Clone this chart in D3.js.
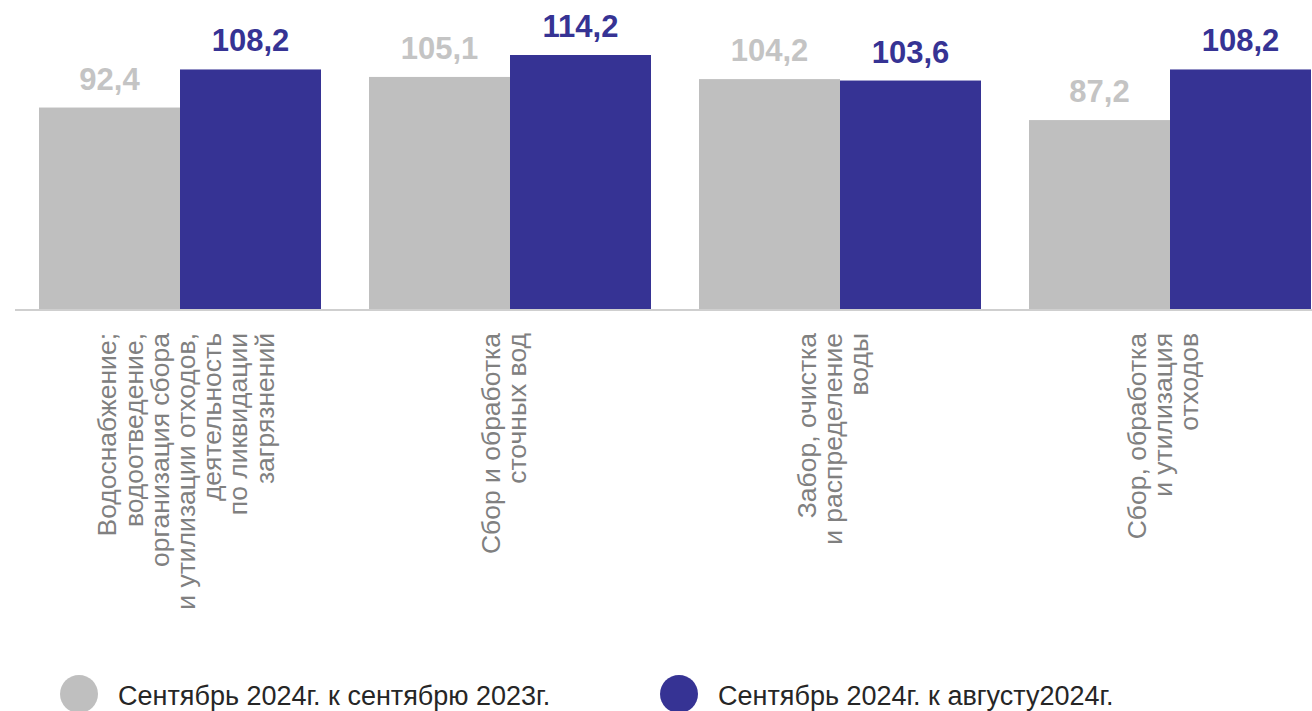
<!DOCTYPE html>
<html>
<head>
<meta charset="utf-8">
<script src="https://cdn.jsdelivr.net/npm/d3@7"></script>
<style>
  body { margin: 0; background: #fff; }
  svg { display: block; font-family: "Liberation Sans", Arial, sans-serif; }
</style>
</head>
<body>
<div id="container"></div>
<script>
// данные
const categories = [
  "Водоснабжение;|водоотведение,|организация сбора|и утилизации отходов,|деятельность|по ликвидации|загрязнений",
  "Сбор и обработка|сточных вод",
  "Забор, очистка|и распределение|воды",
  "Сбор, обработка|и утилизация|отходов"
];
const seriesNames = ["Сентябрь 2024г. к сентябрю 2023г.", "Сентябрь 2024г. к августу2024г."];
const yearOnYear = [92.4, 105.1, 104.2, 87.2];
const monthOnMonth = [108.2, 114.2, 103.6, 108.2];

const colors = ["#bfbfbf", "#363394"];
const width = 1312;
const height = 711;
const baseline = 309;
// сдвиг подписей категорий по x
const labelShift = [15, 3, 2, 2];

const svg = d3
  .select("#container")
  .append("svg")
  .attr("width", width)
  .attr("height", height);

// шкалы
const x0 = d3
  .scaleBand()
  .domain(d3.range(categories.length))
  .range([15, 1335])
  .paddingInner(48 / 330)
  .paddingOuter(24 / 330);

const x1 = d3
  .scaleBand()
  .domain([0, 1])
  .range([0, x0.bandwidth()]);

const y = d3
  .scaleLinear()
  .domain([8.8, 114.2])
  .range([baseline, 55]);

const series = [yearOnYear, monthOnMonth];

// столбцы
const groups = svg
  .selectAll(".group")
  .data(categories)
  .enter()
  .append("g")
  .attr("class", "group")
  .attr("transform", (d, i) => `translate(${x0(i)},0)`);

groups.each(function (c, i) {
  const g = d3.select(this);
  series.forEach((s, k) => {
    g.append("rect")
      .attr("x", x1(k))
      .attr("y", y(s[i]))
      .attr("width", x1.bandwidth())
      .attr("height", baseline - y(s[i]))
      .attr("fill", colors[k]);

    g.append("text")
      .attr("x", x1(k) + x1.bandwidth() / 2)
      .attr("y", y(s[i]) - 18)
      .attr("text-anchor", "middle")
      .style("font-size", "31px")
      .style("font-weight", "bold")
      .attr("fill", k === 0 ? "#c4c4c4" : colors[1])
      .text(s[i].toFixed(1).replace(".", ","));
  });
});

// ось
svg
  .append("line")
  .attr("x1", 15)
  .attr("x2", width)
  .attr("y1", baseline + 1)
  .attr("y2", baseline + 1)
  .attr("stroke", "#bfbfbf")
  .attr("stroke-width", 1.6);

// подписи категорий
const lineH = 26.2;
categories.forEach((c, i) => {
  const lines = c.split("|");
  const cx = x0(i) + x0.bandwidth() / 2 + labelShift[i];
  lines.forEach((ln, j) => {
    const bx = cx + (j - (lines.length - 1) / 2) * lineH;
    svg
      .append("text")
      .attr("transform", `translate(${bx},333) rotate(-90)`)
      .attr("text-anchor", "end")
      .style("font-size", "26.5px")
      .attr("fill", "#808080")
      .text(ln);
  });
});

// легенда
const legendX = [79, 679];
seriesNames.forEach((name, k) => {
  svg
    .append("circle")
    .attr("cx", legendX[k])
    .attr("cy", 694)
    .attr("r", 19)
    .attr("fill", colors[k]);
  svg
    .append("text")
    .attr("x", legendX[k] + 39)
    .attr("y", 705)
    .style("font-size", "27px")
    .attr("fill", "#262626")
    .text(name);
});
</script>
</body>
</html>
